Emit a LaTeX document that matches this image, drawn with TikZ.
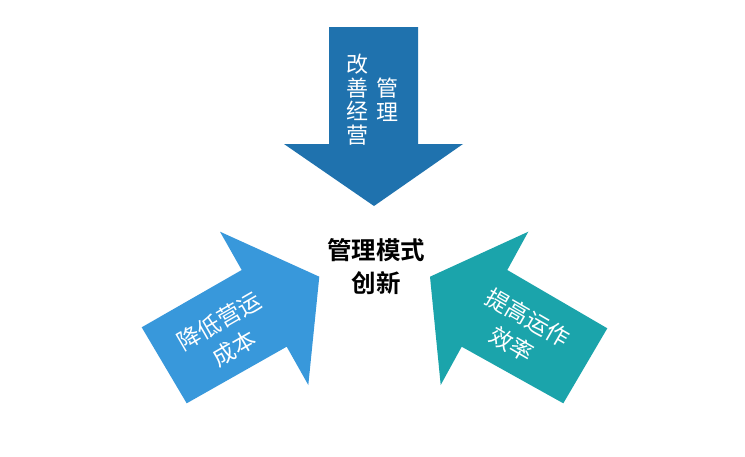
\documentclass[tikz,border=0pt]{standalone}
\usepackage{fontspec}
\newfontfamily\cjk{Noto Sans CJK SC}
\newfontfamily\cjkb{Noto Sans CJK SC Bold}
\definecolor{topblue}{RGB}{31,114,174}
\definecolor{leftblue}{RGB}{56,152,219}
\definecolor{rightteal}{RGB}{27,164,171}
\begin{document}
\begin{tikzpicture}[x=1pt,y=-1pt,
  wtext/.style={text=white,inner sep=0pt,align=center,font={\cjk\fontsize{22}{23.5}\selectfont}},
  stext/.style={text=white,inner sep=0pt,align=center,font={\cjk\fontsize{23}{31}\selectfont}},
  ctext/.style={text=black,inner sep=0pt,align=center,font={\cjkb\fontsize{24.5}{33}\selectfont}}]
\useasboundingbox[fill=white] (0,0) rectangle (745,456);
% top arrow
\fill[topblue] (329,27) -- (418,27) -- (418,144) -- (463,144) -- (374,206) -- (284,144) -- (329,144) -- cycle;
% left arrow
\fill[leftblue] (141.7,327.3) -- (241.7,270) -- (220,231.7) -- (319.3,276.7) -- (308.3,385) -- (286.7,346.7) -- (186.7,403.3) -- cycle;
% right arrow
\fill[rightteal] (607.3,328.3) -- (507.3,270) -- (528.3,231.7) -- (430,276.7) -- (440.7,385) -- (461.7,346.7) -- (563.3,403.3) -- cycle;
% texts
\node[wtext] (t1) at (357.5,99.5) {改\\善\\经\\营};
\node[wtext] (t2) at (387.5,99.5) {管\\理};
\node[stext,rotate=30] (tl) at (226.7,334.7) {降低营运\\成本};
\node[stext,rotate=-30] (tr) at (520,331) {提高运作\\效率};
\node[ctext] (c) at (376,266.5) {管理模式\\创新};
\end{tikzpicture}
\end{document}
